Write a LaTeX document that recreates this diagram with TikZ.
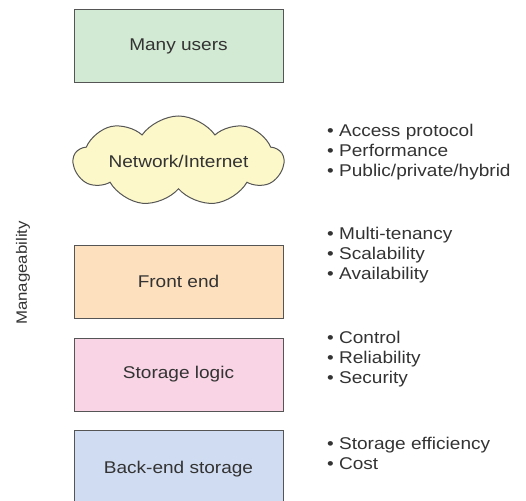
\documentclass[tikz,border=0pt]{standalone}
\usepackage{fontspec}
\setmainfont{Liberation Sans}[FakeStretch=1.12]
\usetikzlibrary{positioning,shapes.symbols}

\definecolor{usersgreen}{HTML}{D2E9D3}
\definecolor{cloudyellow}{HTML}{FDF8C9}
\definecolor{frontpeach}{HTML}{FDE0BE}
\definecolor{logicpink}{HTML}{F8D4E4}
\definecolor{backblue}{HTML}{D0DCF1}
\definecolor{edgegray}{HTML}{555555}
\definecolor{textgray}{HTML}{333333}

\begin{document}
\begin{tikzpicture}[x=1pt, y=-1pt, node distance={18pt},
    font=\fontsize{17}{20}\selectfont, text=textgray,
    layer/.style = {draw=edgegray, line width=1pt, minimum width=209pt, minimum height=73pt, inner sep=0pt},
    points/.style = {align=left, anchor=west, inner sep=0pt}]
    \useasboundingbox (0,0) rectangle (526,500);
    \node[layer, fill=usersgreen] (users) at (178.5,46.5) {Many users};
    \node[cloud, cloud puffs=9, cloud puff arc=110, cloud ignores aspect, draw=edgegray, line width=1pt, fill=cloudyellow,
          minimum width=210pt, minimum height=90pt, inner sep=0pt] (net) at (178.5,161) {Network/Internet};
    \node[layer, fill=frontpeach] (front) at (178.5,281.5) {Front end};
    \node[layer, fill=logicpink] (logic) [below=19pt of front] {Storage logic};
    \node[layer, fill=backblue, minimum height=78pt] (back) [below=of logic] {Back-end storage};
    % characteristics of each layer
    \node[points] (netpts) at (327,152) {\textbullet\ Access protocol\\ \textbullet\ Performance\\ \textbullet\ Public/private/hybrid};
    \node[points] (frontpts) at (327,255) {\textbullet\ Multi-tenancy\\ \textbullet\ Scalability\\ \textbullet\ Availability};
    \node[points] (logicpts) at (327,359) {\textbullet\ Control\\ \textbullet\ Reliability\\ \textbullet\ Security};
    \node[points] (backpts) at (327,453.5) {\textbullet\ Storage efficiency\\ \textbullet\ Cost};
    \node[rotate=90, font=\fontsize{15}{18}\selectfont] (manage) at (23,273) {Manageability};
\end{tikzpicture}
\end{document}
